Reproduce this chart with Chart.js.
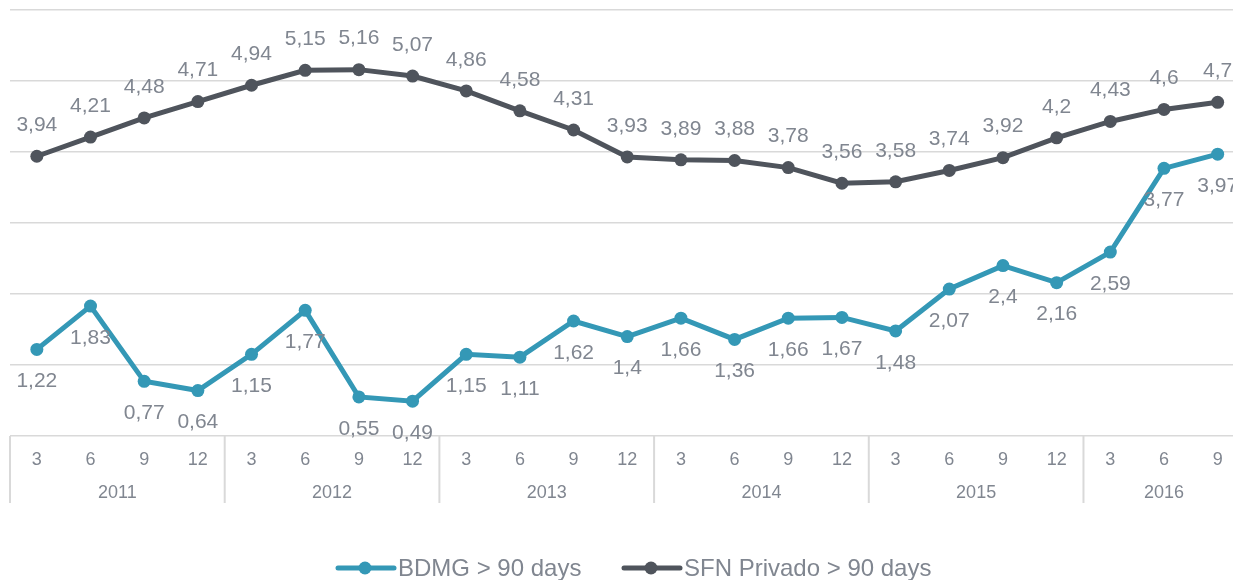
<!DOCTYPE html>
<html>
<head>
<meta charset="utf-8">
<script src="https://cdn.jsdelivr.net/npm/chart.js@4.4.1/dist/chart.umd.min.js"></script>
<style>
  html, body { margin: 0; padding: 0; background: #fff; overflow: hidden; }
  #wrap { position: relative; width: 1251px; height: 580px; }
</style>
</head>
<body>
<div id="wrap"><canvas id="chart"></canvas></div>
<script>
const months = ['3', '6', '9', '12', '3', '6', '9', '12', '3', '6', '9', '12', '3', '6', '9', '12', '3', '6', '9', '12', '3', '6', '9'];
const years = ['2011', '2012', '2013', '2014', '2015', '2016'];
const yearSpans = [4, 4, 4, 4, 4, 3];
const bdmg = [1.22, 1.83, 0.77, 0.64, 1.15, 1.77, 0.55, 0.49, 1.15, 1.11, 1.62, 1.40, 1.66, 1.36, 1.66, 1.67, 1.48, 2.07, 2.40, 2.16, 2.59, 3.77, 3.97];
const sfn = [3.94, 4.21, 4.48, 4.71, 4.94, 5.15, 5.16, 5.07, 4.86, 4.58, 4.31, 3.93, 3.89, 3.88, 3.78, 3.56, 3.58, 3.74, 3.92, 4.20, 4.43, 4.60, 4.70];

const TEAL = '#3498b6';
const DARK = '#4f545c';
const TEXT = '#808690';
const GRID = '#d9d9d9';
const FONT = '"Liberation Sans", Arial, sans-serif';

// value labels: dark series above its points, teal series below
const valueLabels = {
    id: 'valueLabels',
    afterDatasetsDraw(chart) {
        const ctx = chart.ctx;
        ctx.save();
        ctx.font = '21px ' + FONT;
        ctx.fillStyle = TEXT;
        ctx.textAlign = 'center';
        ctx.textBaseline = 'middle';
        chart.data.datasets.forEach((ds, i) => {
            const meta = chart.getDatasetMeta(i);
            const dy = ds.labelSide === 'above' ? -31 : 32;
            meta.data.forEach((pt, j) => {
                const txt = String(ds.data[j]).replace('.', ',');
                ctx.fillText(txt, pt.x, pt.y + dy);
            });
        });
        ctx.restore();
    }
};

// year row under the month ticks, with separators and the legend
const yearAxis = {
    id: 'yearAxis',
    afterDraw(chart) {
        const ctx = chart.ctx;
        const x = chart.scales.x;
        const bottom = chart.chartArea.bottom;
        const step = x.getPixelForValue(1) - x.getPixelForValue(0);
        ctx.save();
        ctx.strokeStyle = GRID;
        ctx.lineWidth = 2;
        let start = 0;
        const edges = [x.getPixelForValue(0) - step / 2];
        yearSpans.forEach(n => {
            start += n;
            edges.push(x.getPixelForValue(start - 1) + step / 2);
        });
        edges.forEach(e => {
            ctx.beginPath();
            ctx.moveTo(e, bottom);
            ctx.lineTo(e, 503);
            ctx.stroke();
        });
        ctx.font = '18px ' + FONT;
        ctx.fillStyle = TEXT;
        ctx.textAlign = 'center';
        ctx.textBaseline = 'middle';
        years.forEach((y, i) => {
            ctx.fillText(y, (edges[i] + edges[i + 1]) / 2, 493);
        });

        // legend
        const items = [
            { text: 'BDMG > 90 days', color: TEAL, x: 338 },
            { text: 'SFN Privado > 90 days', color: DARK, x: 624 }
        ];
        const ly = 568;
        ctx.font = '24px ' + FONT;
        ctx.textAlign = 'left';
        items.forEach(it => {
            ctx.strokeStyle = it.color;
            ctx.lineWidth = 5;
            ctx.lineCap = 'round';
            ctx.beginPath();
            ctx.moveTo(it.x, ly);
            ctx.lineTo(it.x + 56, ly);
            ctx.stroke();
            ctx.fillStyle = it.color;
            ctx.beginPath();
            ctx.arc(it.x + 27, ly, 6.5, 0, Math.PI * 2);
            ctx.fill();
            ctx.fillStyle = TEXT;
            ctx.fillText(it.text, it.x + 60, ly + 1);
        });
        ctx.restore();
    }
};

new Chart(document.getElementById('chart'), {
    type: 'line',
    data: {
        labels: months,
        datasets: [
            {
                label: 'BDMG > 90 days',
                data: bdmg,
                borderColor: TEAL,
                backgroundColor: TEAL,
                borderWidth: 5,
                pointRadius: 6.5,
                pointBorderWidth: 0,
                tension: 0,
                labelSide: 'below'
            },
            {
                label: 'SFN Privado > 90 days',
                data: sfn,
                borderColor: DARK,
                backgroundColor: DARK,
                borderWidth: 5,
                pointRadius: 6.5,
                pointBorderWidth: 0,
                tension: 0,
                labelSide: 'above'
            }
        ]
    },
    options: {
        responsive: true,
        maintainAspectRatio: false,
        animation: false,
        layout: { padding: { top: 10, left: 10, right: 0, bottom: 0 } },
        plugins: {
            legend: { display: false },
            tooltip: { enabled: false }
        },
        scales: {
            x: {
                offset: true,
                grid: { display: false, drawTicks: false },
                border: { display: false },
                ticks: {
                    autoSkip: false,
                    maxRotation: 0,
                    padding: 13,
                    color: TEXT,
                    font: { family: FONT, size: 18 }
                },
                afterFit(scale) { scale.height = 144; }
            },
            y: {
                min: 0,
                max: 6,
                ticks: { display: false, stepSize: 1 },
                grid: { color: GRID, lineWidth: 1.5, drawTicks: false },
                border: { display: false },
                afterFit(scale) { scale.width = 0; }
            }
        }
    },
    plugins: [valueLabels, yearAxis]
});
</script>
</body>
</html>
